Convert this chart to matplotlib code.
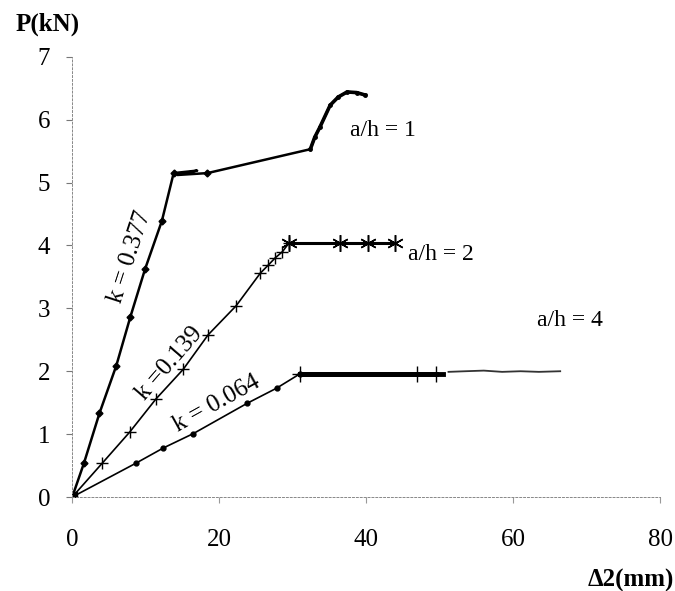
import matplotlib.pyplot as plt

plt.rcParams['font.family'] = ['Liberation Serif', 'DejaVu Serif']

# a/h = 1 (diamonds)
h1_x = [0, 1.6, 3.7, 6.0, 7.9, 9.9, 12.2, 13.8, 17.0, 14.3, 18.4, 32.4, 33.0, 33.7, 35.1, 36.2, 37.4, 38.7, 39.9]
h1_y = [0, 0.54, 1.33, 2.09, 2.86, 3.62, 4.39, 5.15, 5.19, 5.12, 5.15, 5.53, 5.72, 5.88, 6.23, 6.36, 6.44, 6.43, 6.39]

# a/h = 2 (plus, then stars on the plateau)
h2_x = [0, 4.1, 7.8, 11.4, 15.1, 18.5, 22.3, 25.6, 26.7, 27.6, 28.6, 29.5]
h2_y = [0, 0.54, 1.03, 1.56, 2.03, 2.58, 3.04, 3.56, 3.69, 3.80, 3.90, 4.04]
h2_top_x = [29.5, 36.5, 40.3, 43.9]
h2_top_y = [4.04, 4.04, 4.04, 4.04]

# a/h = 4 (dots, then plateau)
h4_x = [0, 8.7, 12.4, 16.5, 23.8, 27.8, 31.0]
h4_y = [0, 0.54, 0.78, 1.01, 1.49, 1.73, 1.96]
h4_top_x = [31.0, 46.9, 49.5, 50.5]
h4_top_y = [1.96, 1.96, 1.96, 1.96]
h4_ext_x = [51.2, 53.5, 56.0, 58.5, 61.0, 63.5, 66.4]
h4_ext_y = [1.99, 2.00, 2.01, 1.99, 2.00, 1.99, 2.00]

fig = plt.figure(figsize=(6.75, 5.91), dpi=100)
ax = fig.add_axes([0.107, 0.159, 0.871, 0.745])

ax.plot(h1_x, h1_y, color='black', lw=1.8)
ax.plot(h1_x[1:8] + [h1_x[10]], h1_y[1:8] + [h1_y[10]], ls='none', color='black', marker='D', ms=3.5)
ax.plot(h1_x[11:], h1_y[11:], color='black', lw=2.6, marker='o', ms=2.5)
ax.plot(h2_x, h2_y, color='black', lw=1.2, marker='+', ms=9, mew=1.0)
ax.plot(h2_top_x, h2_top_y, color='black', lw=2.2, marker=(6, 2, 0), ms=12, mew=1.1)
ax.plot(h4_x, h4_y, color='black', lw=1.2, marker='o', ms=3.5)
ax.plot(h4_top_x[:-1], h4_top_y[:-1], color='black', lw=3.5, marker='+', ms=12, mew=1.0)
ax.plot(h4_top_x, h4_top_y, color='black', lw=3.5)
ax.plot(h4_ext_x, h4_ext_y, color='#333333', lw=1.3)
ax.plot([0], [0], 'ks', ms=7)

ax.set_xlim(0, 80)
ax.set_ylim(0, 7)
ax.set_xticks([0, 20, 40, 60, 80])
ax.set_yticks(range(8))

for s in ['top', 'right']:
    ax.spines[s].set_visible(False)
for s in ['left', 'bottom']:
    ax.spines[s].set_linestyle((0, (2, 2)))
    ax.spines[s].set_color('#888888')
    ax.spines[s].set_linewidth(0.7)
ax.tick_params(axis='y', length=4, color='#777777', pad=12, labelsize=18)
ax.tick_params(axis='x', length=4, color='#999999', pad=19, labelsize=18)

ax.text(37.8, 5.83, 'a/h = 1', fontsize=17, va='center', ha='left')
ax.text(45.7, 3.85, 'a/h = 2', fontsize=17, va='center', ha='left')
ax.text(63.3, 2.81, 'a/h = 4', fontsize=17, va='center', ha='left')
ax.text(7.9, 3.82, 'k = 0.377', fontsize=18, rotation=72, ha='center', va='center', rotation_mode='anchor')
ax.text(13.3, 2.13, 'k =0.139', fontsize=18, rotation=49, ha='center', va='center', rotation_mode='anchor')
ax.text(19.7, 1.49, 'k = 0.064', fontsize=18, rotation=29, ha='center', va='center', rotation_mode='anchor')

fig.text(48 / 675, 1 - 24 / 591, 'P(kN)', fontsize=18, fontweight='bold', ha='center', va='center')
fig.text(674 / 675, 1 - 580 / 591, 'Δ2(mm)', fontsize=18, fontweight='bold', ha='right', va='center')

fig.savefig('out.png', dpi=100)
